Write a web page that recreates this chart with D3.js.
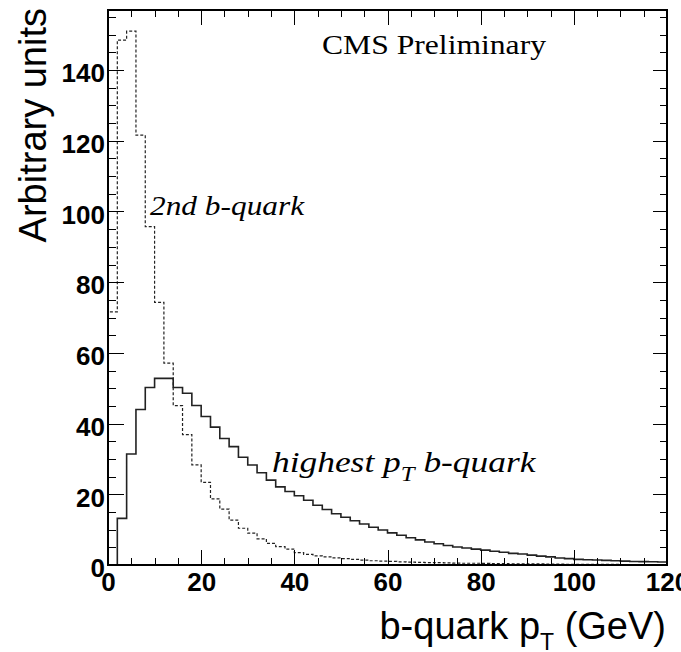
<!DOCTYPE html>
<html lang="en">
<head>
<meta charset="utf-8">
<title>b-quark pT</title>
<script type="text/javascript" src="https://d3js.org/d3.v7.min.js"></script>
<style type="text/css">
	body { margin: 0; background: #fff; }
	.axis path { display: none; }
	.axis line { stroke: black; stroke-width: 1px; shape-rendering: crispEdges; }
	.axis text { font-family: "Liberation Sans", Arial, sans-serif; font-size: 26px; font-weight: bold; fill: black; }
</style>
</head>
<body>
<script type="text/javascript">

	// bin lower edges (GeV), 2 GeV wide
	var binLow = d3.range(0, 120, 2);
	var binWidth = 2;

	// highest pT b-quark (solid)
	var leading = [
		0, 13.2, 31.4, 44.0, 50.2, 52.8, 52.8, 50.2, 48.6, 45.1,
		42.0, 39.0, 35.8, 33.5, 30.5, 28.3, 26.1, 24.0, 22.1, 20.8,
		19.6, 18.3, 16.9, 15.7, 14.5, 13.5, 12.5, 11.6, 10.7, 9.9,
		9.1, 8.4, 7.7, 7.1, 6.5, 6.0, 5.5, 5.1, 4.8, 4.5,
		4.2, 3.9, 3.6, 3.3, 3.1, 2.8, 2.5, 2.3, 2.0, 1.8,
		1.6, 1.5, 1.4, 1.3, 1.2, 1.1, 1.0, 0.95, 0.9, 0.85
	];

	// 2nd b-quark (dashed)
	var second = [
		71.6, 148.5, 151.0, 121.6, 95.7, 74.3, 57.1, 45.1, 36.9, 28.3,
		23.4, 18.7, 15.8, 12.7, 10.4, 9.0, 7.4, 6.1, 5.2, 4.5,
		3.5, 3.0, 2.6, 2.3, 2.0, 1.8, 1.6, 1.4, 1.2, 1.1,
		1.0, 0.9, 0.8, 0.75, 0.7, 0.65, 0.6, 0.55, 0.5, 0.5,
		0.45, 0.4, 0.4, 0.35, 0.35, 0.3, 0.3, 0.25, 0.25, 0.2,
		0.2, 0.2, 0.15, 0.15, 0.15, 0.1, 0.1, 0.1, 0.1, 0.1
	];

	var xMajor = [0, 20, 40, 60, 80, 100, 120];
	var yMajor = [0, 20, 40, 60, 80, 100, 120, 140];

	var w = 681, h = 652;
	// note: "top" is reserved on window, so use frame* names
	var frameL = 108, frameR = 667, frameT = 10, frameB = 565;

	var xScale = d3.scaleLinear().domain([0, 120]).range([frameL, frameR]);
	var yScale = d3.scaleLinear().domain([0, 157]).range([frameB, frameT]);

	var svg = d3.select("body").append("svg")
		.attr("width", w)
		.attr("height", h);

	// histogram outline as steps
	function outline(vals) {
		var pts = [[0, 0]];
		vals.forEach(function(v, i) { pts.push([binLow[i], v]); });
		pts.push([binLow[vals.length - 1] + binWidth, vals[vals.length - 1]]);
		pts.push([binLow[vals.length - 1] + binWidth, 0]);
		return pts;
	}

	var line = d3.line()
		.x(function(d) { return xScale(d[0]); })
		.y(function(d) { return yScale(d[1]); })
		.curve(d3.curveStepAfter);

	svg.append("path")
		.attr("d", line(outline(second)))
		.attr("fill", "none")
		.attr("stroke", "#222")
		.attr("stroke-width", 1.2)
		.attr("stroke-dasharray", "3,2");

	svg.append("path")
		.attr("d", line(outline(leading)))
		.attr("fill", "none")
		.attr("stroke", "#222")
		.attr("stroke-width", 1.6);

	// axes, ticks inside the frame on all four sides
	var xMinor = d3.range(0, 121, 5);
	var yMinor = d3.range(0, 156, 5);

	svg.append("g").attr("class", "axis")
		.attr("transform", "translate(0," + frameB + ")")
		.call(d3.axisBottom(xScale).tickValues(xMinor).tickSize(-7).tickFormat(""));
	svg.append("g").attr("class", "axis")
		.attr("transform", "translate(0," + frameB + ")")
		.call(d3.axisBottom(xScale).tickValues(xMajor).tickSize(-15).tickPadding(8).tickFormat(d3.format("d")));

	svg.append("g").attr("class", "axis")
		.attr("transform", "translate(0," + frameT + ")")
		.call(d3.axisTop(xScale).tickValues(xMinor).tickSize(-7).tickFormat(""));
	svg.append("g").attr("class", "axis")
		.attr("transform", "translate(0," + frameT + ")")
		.call(d3.axisTop(xScale).tickValues(xMajor).tickSize(-15).tickFormat(""));

	svg.append("g").attr("class", "axis")
		.attr("transform", "translate(" + frameL + ",0)")
		.call(d3.axisLeft(yScale).tickValues(yMinor).tickSize(-8).tickFormat(""));
	svg.append("g").attr("class", "axis")
		.attr("transform", "translate(" + frameL + ",0)")
		.call(d3.axisLeft(yScale).tickValues(yMajor).tickSize(-16).tickPadding(3).tickFormat(d3.format("d")))
		.selectAll("text").attr("dy", "0.45em");

	svg.append("g").attr("class", "axis")
		.attr("transform", "translate(" + frameR + ",0)")
		.call(d3.axisRight(yScale).tickValues(yMinor).tickSize(-7).tickFormat(""));
	svg.append("g").attr("class", "axis")
		.attr("transform", "translate(" + frameR + ",0)")
		.call(d3.axisRight(yScale).tickValues(yMajor).tickSize(-14).tickFormat(""));

	// frame
	svg.append("rect")
		.attr("x", frameL)
		.attr("y", frameT)
		.attr("width", frameR - frameL)
		.attr("height", frameB - frameT)
		.attr("fill", "none")
		.attr("stroke", "black")
		.attr("stroke-width", 2);

	// axis titles
	svg.append("text")
		.attr("transform", "translate(46," + (frameT - 2) + ") rotate(-90)")
		.attr("text-anchor", "end")
		.attr("font-family", "Liberation Sans, Arial, sans-serif")
		.attr("font-size", "38px")
		.text("Arbitrary units");

	var xt = svg.append("text")
		.attr("x", 666)
		.attr("y", 639)
		.attr("text-anchor", "end")
		.attr("font-family", "Liberation Sans, Arial, sans-serif")
		.attr("font-size", "38px");
	xt.append("tspan").text("b-quark p");
	xt.append("tspan").attr("font-size", "23px").attr("dy", 11).text("T");
	xt.append("tspan").attr("dy", -11).text(" (GeV)");

	// labels (reference serif is wider than Liberation Serif, so stretch a bit)
	svg.append("text")
		.attr("transform", "translate(322,54) scale(1.13,1)")
		.attr("font-family", "Liberation Serif, Times New Roman, serif")
		.attr("font-size", "28px")
		.text("CMS Preliminary");

	svg.append("text")
		.attr("transform", "translate(150,215) scale(1.12,1)")
		.attr("font-family", "Liberation Serif, Times New Roman, serif")
		.attr("font-style", "italic")
		.attr("font-size", "28px")
		.text("2nd b-quark");

	var hl = svg.append("text")
		.attr("transform", "translate(272,472) scale(1.18,1)")
		.attr("font-family", "Liberation Serif, Times New Roman, serif")
		.attr("font-style", "italic")
		.attr("font-size", "30px");
	hl.append("tspan").text("highest p");
	hl.append("tspan").attr("font-size", "21px").attr("dy", 9).text("T");
	hl.append("tspan").attr("dy", -9).text(" b-quark");

</script>
</body>
</html>
